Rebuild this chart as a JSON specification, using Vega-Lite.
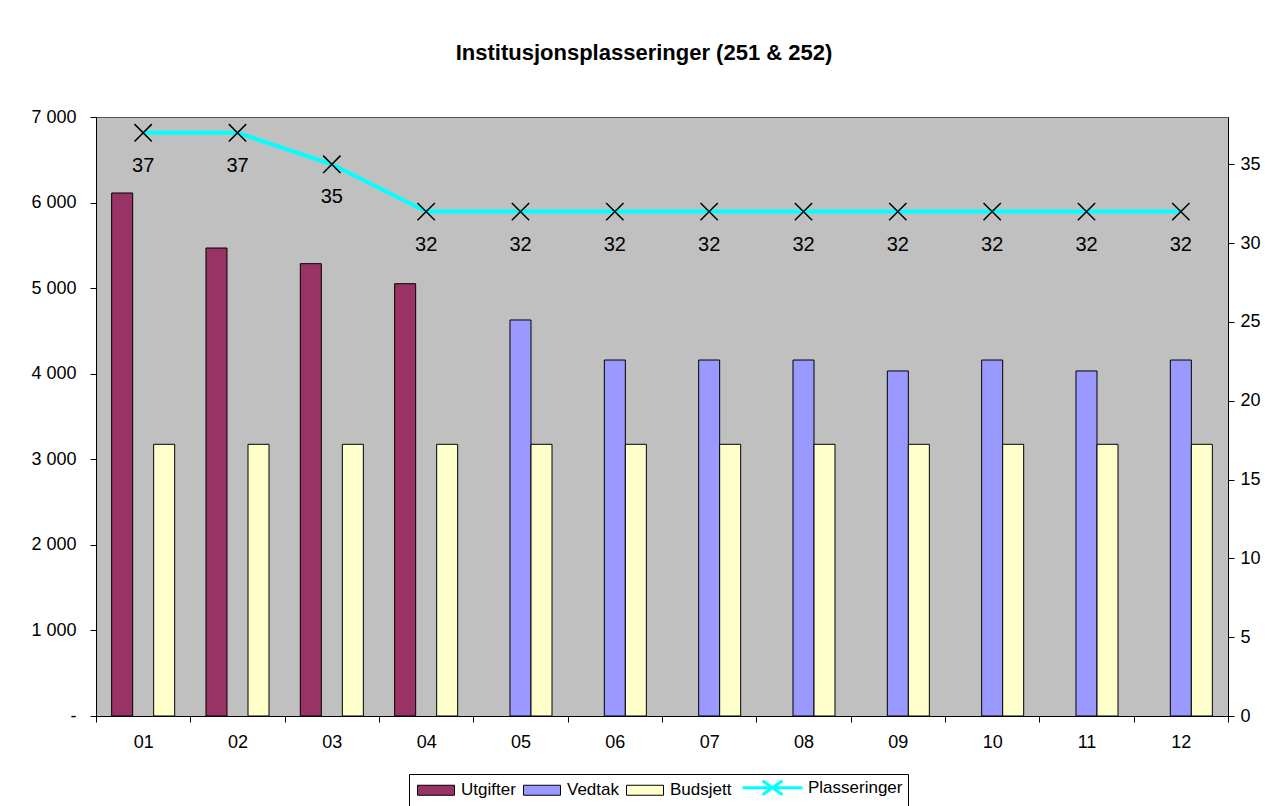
{
  "$schema": "https://vega.github.io/schema/vega-lite/v6.json",
  "width": 1132,
  "height": 599,
  "autosize": {"type": "none"},
  "padding": {"left": 96, "top": 117, "right": 37, "bottom": 90},
  "background": "white",
  "title": {
    "text": "Institusjonsplasseringer (251 & 252)",
    "font": "Liberation Sans",
    "fontSize": 22,
    "fontWeight": "bold",
    "color": "black",
    "anchor": "middle",
    "dx": -18,
    "offset": 43
  },
  "datasets": {
    "bars": [
      {"month": "01", "series": "Utgifter", "value": 6112},
      {"month": "02", "series": "Utgifter", "value": 5469},
      {"month": "03", "series": "Utgifter", "value": 5286},
      {"month": "04", "series": "Utgifter", "value": 5052},
      {"month": "05", "series": "Vedtak", "value": 4628},
      {"month": "06", "series": "Vedtak", "value": 4160},
      {"month": "07", "series": "Vedtak", "value": 4160},
      {"month": "08", "series": "Vedtak", "value": 4160},
      {"month": "09", "series": "Vedtak", "value": 4032},
      {"month": "10", "series": "Vedtak", "value": 4160},
      {"month": "11", "series": "Vedtak", "value": 4032},
      {"month": "12", "series": "Vedtak", "value": 4160},
      {"month": "01", "series": "Budsjett", "value": 3175},
      {"month": "02", "series": "Budsjett", "value": 3175},
      {"month": "03", "series": "Budsjett", "value": 3175},
      {"month": "04", "series": "Budsjett", "value": 3175},
      {"month": "05", "series": "Budsjett", "value": 3175},
      {"month": "06", "series": "Budsjett", "value": 3175},
      {"month": "07", "series": "Budsjett", "value": 3175},
      {"month": "08", "series": "Budsjett", "value": 3175},
      {"month": "09", "series": "Budsjett", "value": 3175},
      {"month": "10", "series": "Budsjett", "value": 3175},
      {"month": "11", "series": "Budsjett", "value": 3175},
      {"month": "12", "series": "Budsjett", "value": 3175}
    ],
    "line": [
      {"month": "01", "plass": 37},
      {"month": "02", "plass": 37},
      {"month": "03", "plass": 35},
      {"month": "04", "plass": 32},
      {"month": "05", "plass": 32},
      {"month": "06", "plass": 32},
      {"month": "07", "plass": 32},
      {"month": "08", "plass": 32},
      {"month": "09", "plass": 32},
      {"month": "10", "plass": 32},
      {"month": "11", "plass": 32},
      {"month": "12", "plass": 32}
    ]
  },
  "config": {
    "view": {"fill": "#C0C0C0", "stroke": "#555555", "strokeWidth": 1},
    "axis": {
      "labelFont": "Liberation Sans",
      "labelFontSize": 18,
      "labelColor": "black",
      "tickColor": "black",
      "domainColor": "black",
      "tickSize": 6,
      "grid": false
    },
    "legend": {
      "orient": "none",
      "legendX": 313,
      "legendY": 657,
      "direction": "horizontal",
      "title": null,
      "strokeColor": "black",
      "padding": 5,
      "labelFont": "Liberation Sans",
      "labelFontSize": 17,
      "labelColor": "black",
      "labelOffset": 30,
      "columnPadding": 4,
      "symbolSize": 100,
      "symbolType": "M-1,-1H6.4V1H-1Z",
      "symbolStrokeColor": "black",
      "symbolStrokeWidth": 1
    }
  },
  "resolve": {"scale": {"y": "independent"}},
  "layer": [
    {
      "data": {"name": "bars"},
      "mark": {"type": "bar", "stroke": "black", "strokeWidth": 1},
      "encoding": {
        "x": {
          "field": "month",
          "type": "ordinal",
          "title": null,
          "scale": {"paddingInner": 0, "paddingOuter": 0},
          "axis": {"labelAngle": 0, "tickBand": "extent", "labelPadding": 11}
        },
        "xOffset": {
          "field": "series",
          "scale": {"domain": ["Utgifter", "Vedtak", "Budsjett"], "paddingInner": 0, "paddingOuter": 0.745}
        },
        "y": {
          "field": "value",
          "type": "quantitative",
          "title": null,
          "scale": {"domain": [0, 7000], "nice": false},
          "axis": {
            "orient": "left",
            "values": [0, 1000, 2000, 3000, 4000, 5000, 6000, 7000],
            "labelExpr": "datum.value == 0 ? '-' : replace(format(datum.value, ',d'), ',', ' ')",
            "labelPadding": 14
          }
        },
        "color": {
          "field": "series",
          "type": "nominal",
          "scale": {
            "domain": ["Utgifter", "Vedtak", "Budsjett", "Plasseringer"],
            "range": ["#993366", "#9999FF", "#FFFFCC", "#00FFFF"]
          },
          "legend": {
            "encode": {
              "symbols": {
                "update": {
                  "shape": {"signal": "datum.value === 'Plasseringer' ? 'M-1,0H11M3,-1.4L7,1.4M3,1.4L7,-1.4' : 'M-1,-1H6.4V1H-1Z'"},
                  "stroke": {"signal": "datum.value === 'Plasseringer' ? '#00FFFF' : 'black'"},
                  "strokeWidth": {"signal": "datum.value === 'Plasseringer' ? 3 : 1"}
                }
              },
              "labels": {
                "update": {
                  "dx": {"signal": "datum.value === 'Plasseringer' ? 22 : 0"}
                }
              }
            }
          }
        }
      }
    },
    {
      "data": {"name": "line"},
      "layer": [
        {
          "mark": {"type": "line", "strokeWidth": 4, "color": "#00FFFF"},
          "encoding": {
            "x": {"field": "month", "type": "ordinal", "title": null},
            "y": {
              "field": "plass",
              "type": "quantitative",
              "title": null,
              "scale": {"domain": [0, 38], "nice": false},
              "axis": {"orient": "right", "values": [0, 5, 10, 15, 20, 25, 30, 35], "labelPadding": 6}
            }
          }
        },
        {
          "mark": {"type": "point", "shape": "M-1,-1L1,1M-1,1L1,-1", "filled": false, "color": "black", "strokeWidth": 1.5, "size": 300, "opacity": 1},
          "encoding": {
            "x": {"field": "month", "type": "ordinal", "title": null},
            "y": {"field": "plass", "type": "quantitative", "title": null}
          }
        },
        {
          "mark": {"type": "text", "dy": 33, "font": "Liberation Sans", "fontSize": 20, "color": "black", "baseline": "middle"},
          "encoding": {
            "x": {"field": "month", "type": "ordinal", "title": null},
            "y": {"field": "plass", "type": "quantitative", "title": null},
            "text": {"field": "plass", "type": "quantitative"}
          }
        }
      ]
    }
  ]
}
